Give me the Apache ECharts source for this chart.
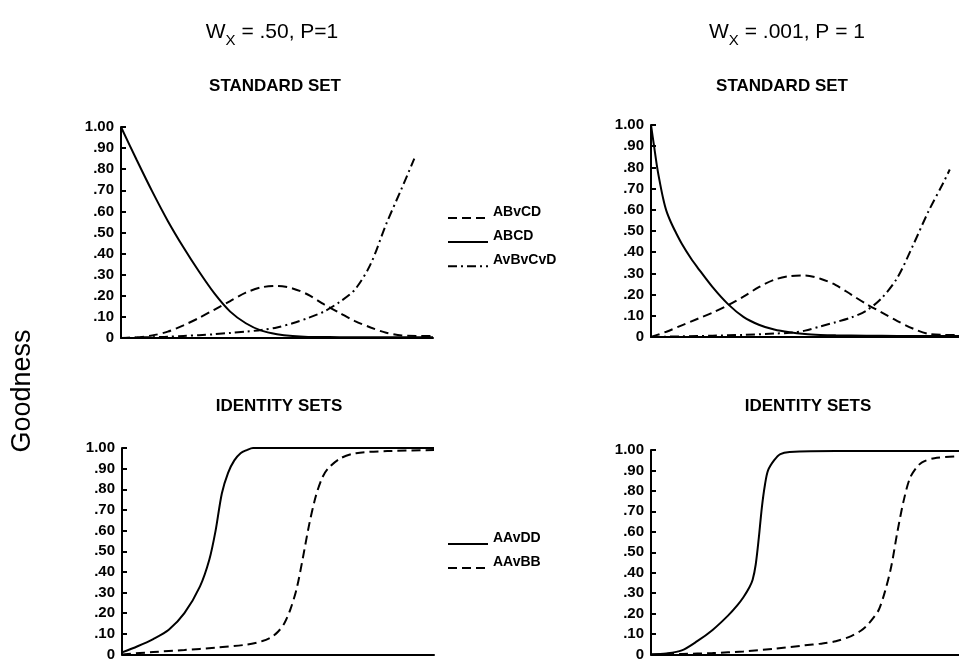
<!DOCTYPE html>
<html>
<head>
<meta charset="utf-8">
<script src="https://cdn.jsdelivr.net/npm/echarts@6/dist/echarts.min.js"></script>
<style>html,body{margin:0;padding:0;background:#fff}#c{width:959px;height:662px}</style>
</head>
<body>
<div id="c"></div>
<script>
// ---- tick labels ----
const yTickLabels = ['0','.10','.20','.30','.40','.50','.60','.70','.80','.90','1.00'];

// ---- Top-left: Wx = .50, STANDARD SET ----
const tlABvCD_x = [0,5,10,15,20,25,30,35,40,45,50,55,60,65,70,75,80,85,90,95,100];
const tlABvCD_y = [0.0,0.003,0.012,0.03,0.06,0.095,0.135,0.175,0.215,0.24,0.247,0.235,0.205,0.16,0.12,0.08,0.05,0.025,0.012,0.01,0.01];
const tlABCD_x = [0,5,10,15,20,25,30,35,40,45,50,55,60,70,80,90,100];
const tlABCD_y = [1.0,0.845,0.695,0.555,0.43,0.315,0.21,0.125,0.07,0.035,0.018,0.009,0.005,0.004,0.003,0.003,0.003];
const tlAvBvCvD_x = [0,5,10,15,20,25,30,35,40,45,50,55,60,65,70,75,80,85,90,94];
const tlAvBvCvD_y = [0,0.002,0.004,0.006,0.01,0.013,0.018,0.024,0.03,0.038,0.05,0.07,0.095,0.125,0.17,0.23,0.35,0.54,0.71,0.85];

// ---- Top-right: Wx = .001, STANDARD SET ----
const trABvCD_x = [0,5,10,15,20,25,30,35,40,45,50,55,60,65,70,75,80,85,90,95,100];
const trABvCD_y = [0,0.025,0.055,0.085,0.115,0.15,0.19,0.235,0.27,0.287,0.29,0.275,0.245,0.2,0.155,0.115,0.075,0.04,0.015,0.01,0.01];
const trABCD_x = [0,1,2,3,4,5,6.5,8,10,13,15,20,25,30,35,40,45,50,55,60,70,80,90,100];
const trABCD_y = [1.0,0.9,0.8,0.72,0.65,0.595,0.54,0.495,0.44,0.37,0.33,0.235,0.155,0.095,0.058,0.035,0.022,0.014,0.01,0.008,0.006,0.005,0.005,0.005];
const trAvBvCvD_x = [0,10,20,30,40,45,50,55,60,65,70,75,80,85,90,95,97];
const trAvBvCvD_y = [0,0.003,0.006,0.01,0.016,0.02,0.03,0.05,0.07,0.092,0.125,0.185,0.28,0.43,0.59,0.73,0.79];

// ---- Bottom-left: Wx = .50, IDENTITY SETS ----
const blAAvDD_x = [0,5,10,15,20,25,28,30,32,34,36,38,40,42,50,60,80,100];
const blAAvDD_y = [0.01,0.04,0.075,0.12,0.2,0.33,0.46,0.6,0.78,0.88,0.94,0.975,0.99,1.0,1.0,1.0,1.0,1.0];
const blAAvBB_x = [0,10,20,30,40,45,48,50,52,54,56,58,60,62,64,66,70,75,85,100];
const blAAvBB_y = [0,0.012,0.022,0.033,0.048,0.065,0.085,0.11,0.15,0.22,0.32,0.47,0.63,0.76,0.85,0.9,0.95,0.975,0.985,0.99];

// ---- Bottom-right: Wx = .001, IDENTITY SETS ----
const brAAvDD_x = [0,5,10,15,20,25,28,30,32,33,34,35,36,37,38,40,42,45,60,100];
const brAAvDD_y = [0,0.005,0.02,0.065,0.12,0.19,0.24,0.28,0.33,0.365,0.44,0.57,0.72,0.83,0.9,0.95,0.98,0.99,0.995,0.995];
const brAAvBB_x = [0,10,20,30,40,50,55,60,65,68,70,72,74,76,78,80,82,84,86,88,92,100];
const brAAvBB_y = [0,0.003,0.007,0.015,0.028,0.045,0.053,0.065,0.09,0.115,0.14,0.175,0.22,0.31,0.43,0.6,0.75,0.86,0.91,0.94,0.96,0.97];

const FONT = '"Liberation Sans", Arial, Helvetica, sans-serif';
const DASH = [9, 5];
const DASHDOT = [9, 4, 2, 4];

function zip(xs, ys) { return xs.map((x, i) => [x, ys[i]]); }

const grids = [
  { left: 121, top: 127, width: 312, height: 211 },
  { left: 651, top: 125, width: 312, height: 212 },
  { left: 122, top: 448, width: 312, height: 211 },
  { left: 651, top: 450, width: 312, height: 209 }
];

const xAxes = grids.map((g, i) => ({
  gridIndex: i, type: 'value', min: 0, max: 100,
  axisLine: { show: true, onZero: false, lineStyle: { color: '#000', width: 2 } },
  axisTick: { show: false }, axisLabel: { show: false }, splitLine: { show: false }
}));
const yAxes = grids.map((g, i) => ({
  gridIndex: i, type: 'value', min: 0, max: 1, interval: 0.1,
  axisLine: { show: true, onZero: false, lineStyle: { color: '#000', width: 2 } },
  axisTick: { show: true, inside: true, length: 5, lineStyle: { color: '#000', width: 2 } },
  axisLabel: { color: '#000', fontSize: 15, fontWeight: 'bold', fontFamily: FONT, margin: 7,
    formatter: v => yTickLabels[Math.round(v * 10)] },
  splitLine: { show: false }
}));

function line(name, idx, xs, ys, type) {
  return {
    name, type: 'line', xAxisIndex: idx, yAxisIndex: idx,
    data: zip(xs, ys), symbol: 'none', smooth: 0.3,
    lineStyle: { color: '#000', width: 2, type: type },
    itemStyle: { color: '#000' }, z: 3
  };
}

const series = [
  line('ABvCD', 0, tlABvCD_x, tlABvCD_y, DASH),
  line('ABCD', 0, tlABCD_x, tlABCD_y, 'solid'),
  line('AvBvCvD', 0, tlAvBvCvD_x, tlAvBvCvD_y, DASHDOT),
  line('ABvCD', 1, trABvCD_x, trABvCD_y, DASH),
  line('ABCD', 1, trABCD_x, trABCD_y, 'solid'),
  line('AvBvCvD', 1, trAvBvCvD_x, trAvBvCvD_y, DASHDOT),
  line('AAvDD', 2, blAAvDD_x, blAAvDD_y, 'solid'),
  line('AAvBB', 2, blAAvBB_x, blAAvBB_y, DASH),
  line('AAvDD', 3, brAAvDD_x, brAAvDD_y, 'solid'),
  line('AAvBB', 3, brAAvBB_x, brAAvBB_y, DASH)
];

const legendText = {
  color: '#000', fontSize: 14, fontWeight: 'bold', fontFamily: FONT,
  rich: { a: { color: '#000', fontSize: 14, fontWeight: 'bold', fontFamily: FONT,
    lineHeight: 26, verticalAlign: 'top' } }
};
const legendItem = { color: 'rgba(0,0,0,0)', borderColor: 'rgba(0,0,0,0)', borderWidth: 0, opacity: 0 };
const legendFmt = name => '{a|' + name + '}';
const legends = [
  { data: ['ABvCD', 'ABCD', 'AvBvCvD'], orient: 'vertical', left: 447, top: 205,
    itemWidth: 40, itemHeight: 14, itemGap: 5.5, padding: 0, selectedMode: false,
    formatter: legendFmt, itemStyle: legendItem, textStyle: legendText },
  { data: ['AAvDD', 'AAvBB'], orient: 'vertical', left: 447, top: 531,
    itemWidth: 40, itemHeight: 14, itemGap: 5.5, padding: 0, selectedMode: false,
    formatter: legendFmt, itemStyle: legendItem, textStyle: legendText }
];

function titleText(x, y, rest) {
  return {
    type: 'text', x: x, y: y, silent: true,
    style: {
      text: '{m|W}{s|X}{m|' + rest + '}',
      align: 'center', verticalAlign: 'middle', fill: '#000',
      rich: {
        m: { fontSize: 21, fontFamily: FONT, fill: '#000', lineHeight: 32, verticalAlign: 'middle' },
        s: { fontSize: 15, fontFamily: FONT, fill: '#000', lineHeight: 32, verticalAlign: 'bottom' }
      }
    }
  };
}
function subText(x, y, t) {
  return {
    type: 'text', x: x, y: y, silent: true,
    style: { text: t, align: 'center', verticalAlign: 'middle', fill: '#000',
      fontSize: 17, fontWeight: 'bold', fontFamily: FONT }
  };
}

const graphic = [
  titleText(272, 32, ' = .50, P=1'),
  titleText(787, 32, ' = .001, P = 1'),
  subText(275, 86, 'STANDARD SET'),
  subText(782, 86, 'STANDARD SET'),
  subText(279, 406, 'IDENTITY SETS'),
  subText(808, 406, 'IDENTITY SETS'),
  { type: 'text', x: 23, y: 391, rotation: Math.PI / 2, silent: true,
    style: { text: 'Goodness', align: 'center', verticalAlign: 'middle', fill: '#000',
      fontSize: 27, fontFamily: FONT } }
];

const chart = echarts.init(document.getElementById('c'), null, { renderer: 'canvas' });
chart.setOption({
  backgroundColor: '#fff',
  animation: false,
  grid: grids,
  xAxis: xAxes,
  yAxis: yAxes,
  legend: legends,
  series: series,
  graphic: graphic
});
</script>
</body>
</html>
